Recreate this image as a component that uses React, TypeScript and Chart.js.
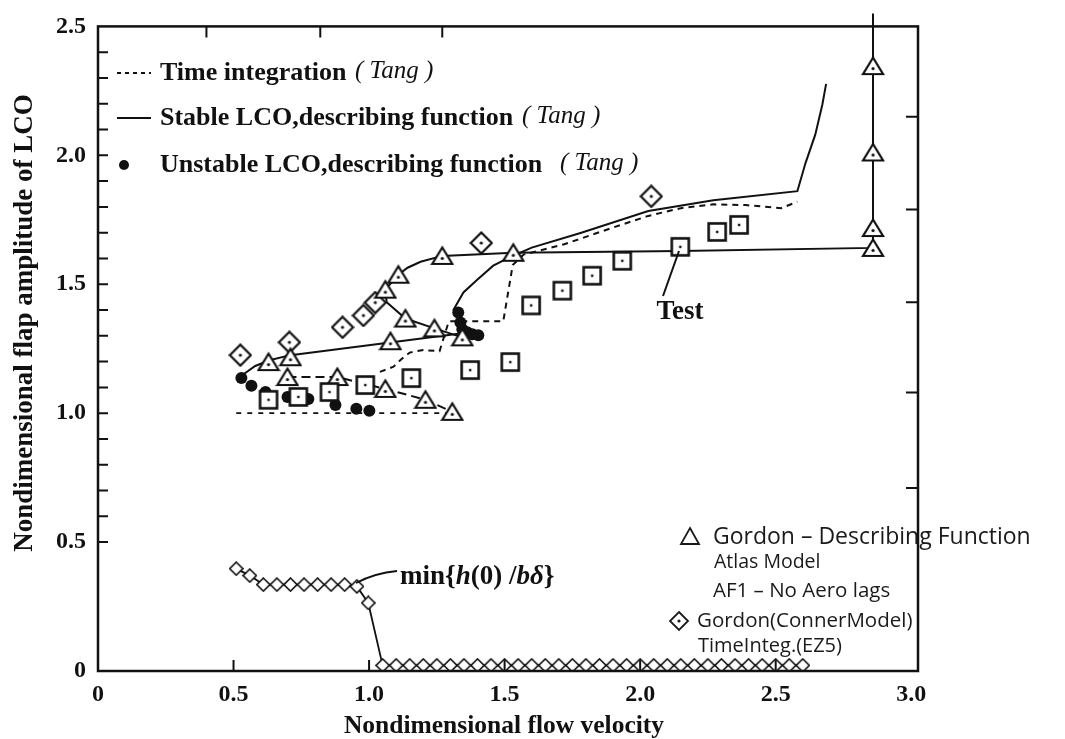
import React, { useEffect, useRef } from "react";
import { Chart, registerables } from "chart.js";

Chart.register(...registerables);

// ---------- axis ticks ----------
const xTickValues = [0, 0.5, 1.0, 1.5, 2.0, 2.5, 3.0];
const yTickValues = [0, 0.5, 1.0, 1.5, 2.0, 2.5];
const leftInnerTicks = [0.5, 0.6, 0.7, 0.8, 0.9, 1.0, 1.1, 1.2, 1.3, 1.4, 1.5, 1.6, 1.7, 1.8, 1.9, 2.0, 2.1, 2.2, 2.3, 2.4];
const rightInnerTicks = [0.71, 1.08, 1.43, 1.79, 2.15];
const topInnerTicks = [0.4, 0.82, 1.27];
const bottomInnerTicks = [0.5, 1.0, 1.5, 2.0, 2.5];

// ---------- Tang: time integration (dashed) ----------
const tangTimeLowX = [0.51, 1.33];
const tangTimeLowY = [1.0, 1.0];
const tangTimeMainX = [1.04, 1.09, 1.12, 1.15, 1.2, 1.26, 1.294, 1.495, 1.53, 1.57, 1.72, 1.9, 2.03, 2.15, 2.27, 2.39, 2.52, 2.58];
const tangTimeMainY = [1.16, 1.18, 1.21, 1.235, 1.245, 1.24, 1.356, 1.356, 1.575, 1.615, 1.655, 1.72, 1.765, 1.795, 1.81, 1.807, 1.795, 1.82];

// ---------- Tang: stable LCO, describing function (solid) ----------
const tangStableLowX = [0.533, 0.58, 0.636, 0.71, 1.373];
const tangStableLowY = [1.148, 1.183, 1.206, 1.225, 1.314];
const tangStableUpX = [1.31, 1.348, 1.4, 1.458, 1.52, 1.6, 1.78, 2.03, 2.27, 2.58, 2.61, 2.646, 2.672, 2.686];
const tangStableUpY = [1.398, 1.468, 1.518, 1.572, 1.605, 1.642, 1.699, 1.784, 1.826, 1.861, 1.97, 2.08, 2.196, 2.277];

// ---------- Tang: unstable LCO, describing function (dots) ----------
const tangUnstableX = [0.529, 0.566, 0.618, 0.699, 0.776, 0.876, 0.953, 1.001, 1.329, 1.337, 1.344, 1.362, 1.381, 1.403];
const tangUnstableY = [1.136, 1.106, 1.082, 1.063, 1.055, 1.032, 1.017, 1.009, 1.39, 1.352, 1.325, 1.314, 1.306, 1.302];

// ---------- Test (squares) ----------
const testX = [0.629, 0.739, 0.854, 0.986, 1.156, 1.373, 1.521, 1.598, 1.713, 1.823, 1.934, 2.148, 2.284, 2.365];
const testY = [1.052, 1.063, 1.082, 1.109, 1.136, 1.167, 1.198, 1.418, 1.475, 1.533, 1.591, 1.645, 1.703, 1.73];

// ---------- Gordon: describing function, Atlas model (triangles) ----------
const gordonDFX = [0.629, 0.71, 0.699, 0.883, 1.06, 1.208, 1.307, 1.079, 1.134, 1.241, 1.344, 1.06, 1.108, 1.27, 1.532, 2.859, 2.859, 2.859, 2.859];
const gordonDFY = [1.198, 1.217, 1.14, 1.14, 1.094, 1.052, 1.005, 1.279, 1.367, 1.329, 1.294, 1.479, 1.537, 1.61, 1.622, 1.641, 1.718, 2.011, 2.346];
const gordonUpperLineX = [1.344, 1.241, 1.134, 1.065, 1.06, 1.108, 1.142, 1.19, 1.27, 1.532, 2.148, 2.859, 2.859];
const gordonUpperLineY = [1.294, 1.329, 1.367, 1.43, 1.479, 1.537, 1.564, 1.587, 1.61, 1.622, 1.629, 1.641, 2.55];
const gordonLowerLineX = [0.699, 0.883, 1.06, 1.208, 1.307];
const gordonLowerLineY = [1.14, 1.14, 1.094, 1.052, 1.005];

// ---------- Gordon: Conner model, time integration (diamonds) ----------
const connerX = [0.525, 0.706, 0.902, 0.979, 1.023, 1.414, 2.041];
const connerY = [1.225, 1.275, 1.333, 1.379, 1.429, 1.66, 1.841];

// ---------- min{h(0)/b delta} (small diamonds) ----------
const minHX = [0.51, 0.56, 0.61, 0.66, 0.71, 0.76, 0.81, 0.86, 0.91, 0.955, 0.997,
  1.05, 1.10, 1.15, 1.20, 1.25, 1.30, 1.35, 1.40, 1.45, 1.50, 1.55, 1.60, 1.65, 1.70, 1.75, 1.80,
  1.85, 1.90, 1.95, 2.00, 2.05, 2.10, 2.15, 2.20, 2.25, 2.30, 2.35, 2.40, 2.45, 2.50, 2.55, 2.60];
const minHY = [0.397, 0.37, 0.335, 0.335, 0.335, 0.335, 0.335, 0.335, 0.335, 0.328, 0.264,
  0.022, 0.022, 0.022, 0.022, 0.022, 0.022, 0.022, 0.022, 0.022, 0.022, 0.022, 0.022, 0.022, 0.022, 0.022, 0.022,
  0.022, 0.022, 0.022, 0.022, 0.022, 0.022, 0.022, 0.022, 0.022, 0.022, 0.022, 0.022, 0.022, 0.022, 0.022, 0.022];

// ---------- texts ----------
const legendLabels = ["Time integration", "Stable LCO,describing function", "Unstable LCO,describing function"];
const legendNote = "( Tang )";
const gordonNotes = ["Gordon – Describing Function", "Atlas Model", "AF1 – No Aero lags", "Gordon(ConnerModel)", "TimeInteg.(EZ5)"];
const xTitle = "Nondimensional flow velocity";
const yTitle = "Nondimensional flap amplitude of LCO";
const testLabel = "Test";

const INK = "#111";
const SERIF = "'Liberation Serif', 'Times New Roman', serif";
const HAND = "'Open Sans', 'Noto Sans', sans-serif";

function pts(xs: number[], ys: number[]) {
  return xs.map((x, i) => ({ x, y: ys[i] }));
}

function makeMarker(kind: string): HTMLCanvasElement {
  const c = document.createElement("canvas");
  const ctx = c.getContext("2d") as CanvasRenderingContext2D;
  if (kind === "triangle") {
    c.width = 24; c.height = 22;
    ctx.strokeStyle = INK; ctx.fillStyle = "#fff";
    ctx.beginPath();
    ctx.moveTo(12, 2.5); ctx.lineTo(22, 19); ctx.lineTo(2, 19); ctx.closePath();
    ctx.fill(); ctx.lineWidth = 2.2; ctx.stroke();
    ctx.fillStyle = INK; ctx.beginPath(); ctx.arc(12, 13.5, 1.6, 0, Math.PI * 2); ctx.fill();
  } else if (kind === "square") {
    c.width = 22; c.height = 22;
    ctx.strokeStyle = INK; ctx.fillStyle = "#fff";
    ctx.fillRect(2.5, 2.5, 17, 17);
    ctx.lineWidth = 2.6; ctx.strokeRect(2.5, 2.5, 17, 17);
    ctx.fillStyle = INK; ctx.fillRect(9.8, 9.8, 2.4, 2.4);
  } else if (kind === "diamond") {
    c.width = 24; c.height = 24;
    ctx.strokeStyle = INK; ctx.fillStyle = "#fff";
    ctx.beginPath();
    ctx.moveTo(12, 1.5); ctx.lineTo(22.5, 12); ctx.lineTo(12, 22.5); ctx.lineTo(1.5, 12); ctx.closePath();
    ctx.fill(); ctx.lineWidth = 2.2; ctx.stroke();
    ctx.fillStyle = INK; ctx.beginPath(); ctx.arc(12, 12, 1.6, 0, Math.PI * 2); ctx.fill();
  } else {
    c.width = 15; c.height = 15;
    ctx.strokeStyle = INK; ctx.fillStyle = "#fff";
    ctx.beginPath();
    ctx.moveTo(7.5, 1); ctx.lineTo(14, 7.5); ctx.lineTo(7.5, 14); ctx.lineTo(1, 7.5); ctx.closePath();
    ctx.fill(); ctx.lineWidth = 1.6; ctx.stroke();
  }
  return c;
}

const decorPlugin = {
  id: "decor",
  afterDatasetsDraw(chart: any) {
    const { ctx, chartArea: a, scales } = chart;
    const xs = scales.x;
    const ys = scales.y;
    ctx.save();
    ctx.strokeStyle = INK;
    ctx.fillStyle = INK;
    ctx.lineWidth = 2.5;
    ctx.strokeRect(a.left, a.top, a.right - a.left, a.bottom - a.top);
    ctx.lineWidth = 2;
    ctx.beginPath();
    leftInnerTicks.forEach((v) => { const p = ys.getPixelForValue(v); ctx.moveTo(a.left, p); ctx.lineTo(a.left + 10, p); });
    rightInnerTicks.forEach((v) => { const p = ys.getPixelForValue(v); ctx.moveTo(a.right, p); ctx.lineTo(a.right - 12, p); });
    topInnerTicks.forEach((v) => { const p = xs.getPixelForValue(v); ctx.moveTo(p, a.top); ctx.lineTo(p, a.top + 11); });
    bottomInnerTicks.forEach((v) => { const p = xs.getPixelForValue(v); ctx.moveTo(p, a.bottom); ctx.lineTo(p, a.bottom - 11); });
    ctx.stroke();
    ctx.restore();
  },
  afterDraw(chart: any) {
    const { ctx } = chart;
    ctx.save();
    ctx.fillStyle = INK;
    ctx.strokeStyle = INK;
    ctx.textBaseline = "middle";

    // axis titles
    ctx.font = `bold 25.5px ${SERIF}`;
    ctx.textAlign = "center";
    ctx.fillText(xTitle, 504, 726);
    ctx.save();
    ctx.translate(25, 323);
    ctx.rotate(-Math.PI / 2);
    ctx.font = `bold 27px ${SERIF}`;
    ctx.fillText(yTitle, 0, 0);
    ctx.restore();

    // legend (top-left)
    ctx.textAlign = "left";
    const rows = [73, 118, 165];
    ctx.lineWidth = 2;
    ctx.setLineDash([4, 4]);
    ctx.beginPath(); ctx.moveTo(117, rows[0]); ctx.lineTo(151, rows[0]); ctx.stroke();
    ctx.setLineDash([]);
    ctx.beginPath(); ctx.moveTo(117, rows[1]); ctx.lineTo(151, rows[1]); ctx.stroke();
    ctx.beginPath(); ctx.arc(124, rows[2], 5, 0, Math.PI * 2); ctx.fill();
    const noteX = [355, 522, 560];
    legendLabels.forEach((t, i) => {
      ctx.font = `bold 26px ${SERIF}`;
      ctx.fillText(t, 160, rows[i]);
      ctx.font = `italic 25px ${SERIF}`;
      ctx.fillText(legendNote, noteX[i], rows[i] - 2);
    });

    // Test label + leader
    ctx.font = `bold 27px ${SERIF}`;
    ctx.textAlign = "center";
    ctx.fillText(testLabel, 680, 312);
    ctx.lineWidth = 2;
    ctx.beginPath(); ctx.moveTo(663, 296); ctx.lineTo(679, 251); ctx.stroke();

    // min{h(0)/b delta} label + leader
    ctx.textAlign = "left";
    let tx = 400;
    const parts: [string, string][] = [
      ["min{", `bold 27px ${SERIF}`],
      ["h", `bold italic 27px ${SERIF}`],
      ["(0) /", `bold 27px ${SERIF}`],
      ["bδ", `bold italic 27px ${SERIF}`],
      ["}", `bold 27px ${SERIF}`],
    ];
    parts.forEach(([t, f]) => { ctx.font = f; ctx.fillText(t, tx, 577); tx += ctx.measureText(t).width; });
    ctx.lineWidth = 1.8;
    ctx.beginPath(); ctx.moveTo(356, 583); ctx.quadraticCurveTo(375, 573, 397, 571); ctx.stroke();

    // Gordon handwritten notes
    ctx.fillStyle = "#1a1a1a";
    ctx.strokeStyle = "#1a1a1a";
    const noteRows = [537, 562, 591, 621, 646];
    const noteXs = [713, 714, 713, 697, 698];
    const noteSizes = [23, 19.5, 20.5, 20.5, 20];
    gordonNotes.forEach((t, i) => { ctx.font = `${noteSizes[i]}px ${HAND}`; ctx.fillText(t, noteXs[i], noteRows[i]); });
    ctx.lineWidth = 1.8;
    ctx.beginPath(); ctx.moveTo(690, 528); ctx.lineTo(699, 544); ctx.lineTo(681, 544); ctx.closePath(); ctx.stroke();
    ctx.beginPath(); ctx.moveTo(679, 612); ctx.lineTo(688, 621); ctx.lineTo(679, 630); ctx.lineTo(670, 621); ctx.closePath(); ctx.stroke();
    ctx.beginPath(); ctx.arc(679, 621, 1.6, 0, Math.PI * 2); ctx.fill();
    ctx.restore();
  },
};

export default function App() {
  const ref = useRef<HTMLCanvasElement | null>(null);

  useEffect(() => {
    if (!ref.current) return;
    const tri = makeMarker("triangle");
    const sq = makeMarker("square");
    const dia = makeMarker("diamond");
    const small = makeMarker("small");

    const lineBase = { showLine: true, pointRadius: 0, borderColor: INK, borderWidth: 2, tension: 0, fill: false };
    const markBase = { showLine: false, pointRadius: 10, pointHoverRadius: 10 };

    const chart = new Chart(ref.current, {
      type: "scatter",
      data: {
        datasets: [
          { label: "Test", data: pts(testX, testY), pointStyle: sq, ...markBase } as any,
          { label: "Gordon – Describing Function", data: pts(gordonDFX, gordonDFY), pointStyle: tri, ...markBase } as any,
          { label: "Gordon(ConnerModel) TimeInteg.", data: pts(connerX, connerY), pointStyle: dia, ...markBase } as any,
          { label: "min{h(0)/bδ}", data: pts(minHX, minHY), pointStyle: small, ...markBase, showLine: true, borderColor: INK, borderWidth: 1.8 } as any,
          { label: "Unstable LCO (Tang)", data: pts(tangUnstableX, tangUnstableY), showLine: false, pointStyle: "circle", pointRadius: 6, backgroundColor: INK, borderColor: INK, borderWidth: 0 } as any,
          { label: "Gordon upper", data: pts(gordonUpperLineX, gordonUpperLineY), ...lineBase, clip: false } as any,
          { label: "Gordon lower", data: pts(gordonLowerLineX, gordonLowerLineY), ...lineBase, borderDash: [9, 5] } as any,
          { label: "Stable LCO low (Tang)", data: pts(tangStableLowX, tangStableLowY), ...lineBase } as any,
          { label: "Stable LCO up (Tang)", data: pts(tangStableUpX, tangStableUpY), ...lineBase } as any,
          { label: "Time integration low (Tang)", data: pts(tangTimeLowX, tangTimeLowY), ...lineBase, borderDash: [5, 6], borderWidth: 1.8 } as any,
          { label: "Time integration (Tang)", data: pts(tangTimeMainX, tangTimeMainY), ...lineBase, borderDash: [6, 5] } as any,
        ],
      },
      options: {
        responsive: false,
        animation: false,
        events: [],
        layout: { padding: { left: 0, top: 21, right: 147, bottom: 0 } },
        plugins: { legend: { display: false }, tooltip: { enabled: false } },
        scales: {
          x: {
            type: "linear",
            min: 0,
            max: 3.025,
            afterBuildTicks: (s: any) => { s.ticks = xTickValues.map((v) => ({ value: v })); },
            afterFit: (s: any) => { s.height = 68; },
            grid: { display: false, drawTicks: false },
            border: { display: false },
            ticks: {
              padding: 9,
              color: INK,
              font: { family: SERIF, size: 24, weight: "bold" },
              maxRotation: 0,
              autoSkip: false,
              callback: (v: any) => (Number(v) === 0 ? "0" : Number(v).toFixed(1)),
            },
          },
          y: {
            type: "linear",
            min: 0,
            max: 2.5,
            afterBuildTicks: (s: any) => { s.ticks = yTickValues.map((v) => ({ value: v })); },
            afterFit: (s: any) => { s.width = 98; },
            grid: { display: false, drawTicks: false },
            border: { display: false },
            ticks: {
              padding: 12,
              color: INK,
              font: { family: SERIF, size: 24, weight: "bold" },
              autoSkip: false,
              callback: (v: any) => (Number(v) === 0 ? "0" : Number(v).toFixed(1)),
            },
          },
        },
      } as any,
      plugins: [decorPlugin],
    });
    return () => chart.destroy();
  }, []);

  return (
    <div style={{ position: "absolute", left: 0, top: 0, width: 1065, height: 739, background: "#fff" }}>
      <canvas ref={ref} width={1065} height={739} style={{ display: "block" }} />
    </div>
  );
}
